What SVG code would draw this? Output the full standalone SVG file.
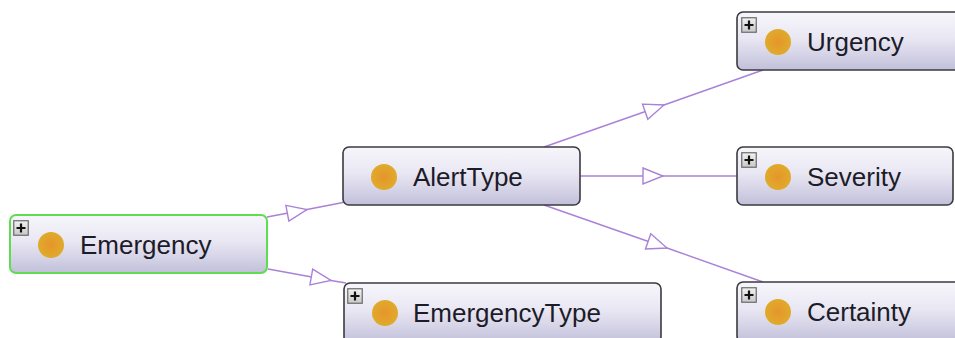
<svg xmlns="http://www.w3.org/2000/svg" xmlns:xlink="http://www.w3.org/1999/xlink" width="955" height="338" viewBox="0 0 955 338">
  <style>
    .box { fill: url(#nodeFill); stroke: #3a3a40; stroke-width: 1.6; }
    .box.focus { stroke: #5fdc52; stroke-width: 2; }
    .label { font-family: "Liberation Sans", Arial, sans-serif; font-size: 26px; fill: #1c1c28; }
    .edge { fill: none; stroke: #a982d8; stroke-width: 1.4; marker-mid: url(#isa); }
  </style>
  <defs>
    <linearGradient id="nodeFill" x1="0" y1="0" x2="0" y2="1">
      <stop offset="0" stop-color="#f7f6fb"/>
      <stop offset="0.45" stop-color="#e9e7f3"/>
      <stop offset="1" stop-color="#c2c0da"/>
    </linearGradient>
    <radialGradient id="classDot" cx="0.5" cy="0.5" r="0.5">
      <stop offset="0" stop-color="#e6952c"/>
      <stop offset="1" stop-color="#dfab2a"/>
    </radialGradient>
    <linearGradient id="btnFill" x1="0" y1="0" x2="0" y2="1">
      <stop offset="0" stop-color="#f2f2f2"/>
      <stop offset="1" stop-color="#c8c8c8"/>
    </linearGradient>
    <!-- expand button -->
    <symbol id="expand" viewBox="0 0 16 16" width="16" height="16">
      <rect x="0.75" y="0.75" width="14.5" height="14.5" fill="url(#btnFill)" stroke="#6a6a6a" stroke-width="1.2"/>
      <path d="M8 3.5 V12.5 M3.5 8 H12.5" stroke="#111" stroke-width="2.2"/>
    </symbol>
    <!-- open "is-a" triangle placed at the middle vertex of each edge -->
    <marker id="isa" markerUnits="userSpaceOnUse" viewBox="0 0 24 20" refX="22" refY="10" markerWidth="24" markerHeight="20" orient="auto">
      <path d="M2,2 L22,10 L2,18 Z" fill="#ffffff" stroke="#a982d8" stroke-width="1.4" stroke-linejoin="miter"/>
    </marker>
  </defs>

  <rect width="955" height="338" fill="#ffffff"/>

  <g id="edges">
    <path class="edge" d="M267,217 L307,209.5 L343,202.5"/>
    <path class="edge" d="M268,269 L331,280.5 L346,283"/>
    <path class="edge" d="M544,147 L664,105 L763,70"/>
    <path class="edge" d="M580,176 L663,176 L737,176"/>
    <path class="edge" d="M544,205 L667,248 L763,282"/>
  </g>

  <g id="node-emergency">
    <rect class="box focus" x="10" y="215" width="257" height="58" rx="6"/>
    <use xlink:href="#expand" x="13" y="220"/>
    <circle cx="51" cy="245" r="13" fill="url(#classDot)"/>
    <text class="label" x="80" y="254">Emergency</text>
  </g>

  <g id="node-alerttype">
    <rect class="box" x="343" y="147" width="237" height="58" rx="6"/>
    <circle cx="384" cy="177" r="13" fill="url(#classDot)"/>
    <text class="label" x="413" y="186">AlertType</text>
  </g>

  <g id="node-emergencytype">
    <rect class="box" x="344" y="283" width="317" height="60" rx="6"/>
    <use xlink:href="#expand" x="347" y="288"/>
    <circle cx="385" cy="313" r="13" fill="url(#classDot)"/>
    <text class="label" x="413" y="322">EmergencyType</text>
  </g>

  <g id="node-urgency">
    <rect class="box" x="737" y="12" width="240" height="58" rx="6"/>
    <use xlink:href="#expand" x="741" y="17"/>
    <circle cx="778" cy="42" r="13" fill="url(#classDot)"/>
    <text class="label" x="807" y="51">Urgency</text>
  </g>

  <g id="node-severity">
    <rect class="box" x="737" y="147" width="216" height="58" rx="6"/>
    <use xlink:href="#expand" x="741" y="152"/>
    <circle cx="778" cy="177" r="13" fill="url(#classDot)"/>
    <text class="label" x="807" y="186">Severity</text>
  </g>

  <g id="node-certainty">
    <rect class="box" x="737" y="282" width="240" height="60" rx="6"/>
    <use xlink:href="#expand" x="741" y="287"/>
    <circle cx="778" cy="312" r="13" fill="url(#classDot)"/>
    <text class="label" x="807" y="321">Certainty</text>
  </g>
</svg>
